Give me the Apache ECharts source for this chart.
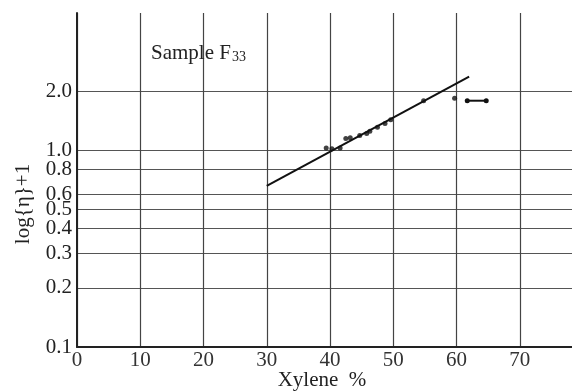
<!DOCTYPE html>
<html>
<head>
<meta charset="utf-8">
<script src="https://cdn.jsdelivr.net/npm/echarts@6/dist/echarts.min.js"></script>
<style>
html,body{margin:0;padding:0;background:#fff;}
#chart{width:572px;height:391px;}
</style>
</head>
<body>
<div id="chart"></div>
<script>
// Data
var xylene = [39.4, 40.3, 41.6, 42.5, 43.2, 44.7, 45.8, 46.3, 47.5, 48.7, 49.6, 54.8, 59.7];
var logEta1 = [1.03, 1.02, 1.03, 1.15, 1.16, 1.19, 1.22, 1.25, 1.31, 1.37, 1.43, 1.79, 1.84];
var fitX = [30, 62];
var fitY = [0.66, 2.37];
var rangeX = [61.7, 64.7];
var rangeY = [1.79, 1.79];
var yTicks = [0.1, 0.2, 0.3, 0.4, 0.5, 0.6, 0.8, 1.0, 2.0];
var xTicks = [0, 10, 20, 30, 40, 50, 60, 70];

var font = '"Liberation Serif", "DejaVu Serif", serif';
function pairs(xs, ys){ return xs.map(function(x,i){ return [x, ys[i]]; }); }

var chart = echarts.init(document.getElementById('chart'), null, {renderer:'canvas'});
chart.setOption({
  backgroundColor: '#ffffff',
  animation: false,
  title: {
    text: '{a|Sample F}{b|33}',
    left: 146, top: 37,
    textStyle: {
      fontWeight: 'normal',
      rich: {
        a: {fontFamily: font, fontSize: 21, fontWeight: 'normal', color: '#222'},
        b: {fontFamily: font, fontSize: 14, fontWeight: 'normal', color: '#222', verticalAlign: 'bottom', padding: [8,0,0,1]}
      }
    }
  },
  grid: {left: 77, top: 13, width: 506, height: 334, containLabel: false, outerBoundsMode: 'none'},
  xAxis: {
    type: 'value', min: 0, max: 80, interval: 10,
    name: 'Xylene  %', nameLocation: 'middle', nameGap: 23, nameMoveOverlap: false,
    nameTextStyle: {fontFamily: font, fontSize: 21, color: '#222', padding: [0, 16, 0, 0]},
    axisLine: {show: true, lineStyle: {color: '#222', width: 2}},
    axisTick: {show: false},
    axisLabel: {
      fontFamily: font, fontSize: 21, color: '#333', margin: 3,
      customValues: xTicks
    },
    splitLine: {show: true, lineStyle: {color: '#444', width: 1.2}}
  },
  yAxis: {
    type: 'log', logBase: 10, min: 0.1, max: 5,
    axisLine: {show: true, onZero: false, lineStyle: {color: '#222', width: 2}},
    axisTick: {show: false, customValues: yTicks},
    axisLabel: {
      fontFamily: font, fontSize: 21, color: '#222', margin: 5,
      customValues: yTicks,
      formatter: function(v){ return Number(v).toFixed(1); }
    },
    splitLine: {show: true, lineStyle: {color: '#555', width: 1.2}},
    minorSplitLine: {show: false}
  },
  graphic: [{
    type: 'text', x: 23, y: 204, rotation: Math.PI/2,
    style: {text: 'log{η}+1', font: '21px ' + font, fill: '#222', align: 'center', verticalAlign: 'middle'}
  }],
  series: [
    {type: 'line', data: pairs(fitX, fitY), symbol: 'none', lineStyle: {color: '#111', width: 2}, z: 3},
    {type: 'scatter', data: pairs(xylene, logEta1), symbol: 'circle', symbolSize: 5, itemStyle: {color: '#111'}, z: 4},
    {type: 'line', data: pairs(rangeX, rangeY), symbol: 'circle', symbolSize: 5, showSymbol: true,
     itemStyle: {color: '#111'}, lineStyle: {color: '#111', width: 2}, z: 4}
  ]
});
</script>
</body>
</html>
